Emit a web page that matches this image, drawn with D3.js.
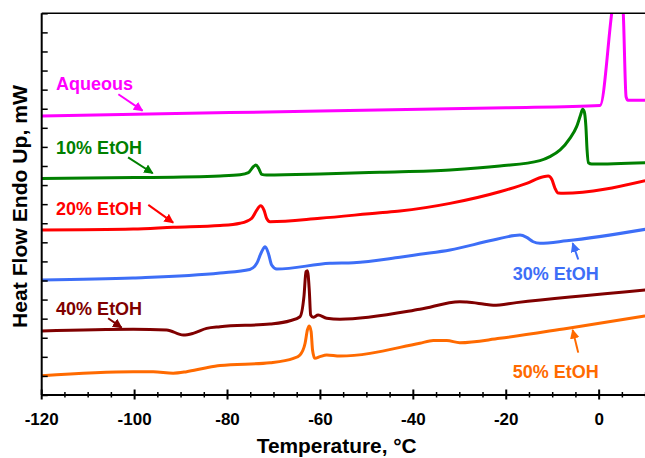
<!DOCTYPE html>
<html>
<head>
<meta charset="utf-8">
<script src="https://cdn.jsdelivr.net/npm/d3@7"></script>
<style>
  html, body { margin: 0; padding: 0; background: #fff; }
  svg { display: block; font-family: "Liberation Sans", Arial, sans-serif; }
</style>
</head>
<body>
<svg id="chart" width="645" height="458"></svg>
<script>
// DSC heating traces: temperature (°C) vs heat flow (mW, endo up, curves offset)
const aqueous = [[-120,14.62],[-60,14.88],[-20,15.05],[0.2,15.17],[2.7,20.0],[4,22.5],[4.8,21.7],[5.2,20.0],[5.8,15.62],[6.2,15.44],[10,15.45]];
const etoh10 = [[-120,11.35],[-100,11.39],[-81.6,11.48],[-77.3,11.54],[-75.5,11.65],[-74.45,11.96],[-73.9,12.05],[-73.3,11.88],[-72.65,11.56],[-71.6,11.53],[-60.1,11.58],[-47.2,11.67],[-32.1,11.79],[-21.4,12.0],[-12.75,12.28],[-10.6,12.49],[-8.4,12.84],[-6.3,13.45],[-4.85,14.06],[-4.0,14.67],[-3.55,14.97],[-3.2,14.84],[-2.85,14.06],[-2.6,12.84],[-2.3,12.17],[-1.6,12.1],[9.9,12.17]];
const etoh20 = [[-120,8.65],[-100.3,8.7],[-91.7,8.79],[-81.6,8.88],[-77.3,9.0],[-74.8,9.26],[-73.7,9.69],[-72.9,9.92],[-72.15,9.69],[-71.6,9.26],[-70.85,9.08],[-60.1,9.26],[-47.2,9.55],[-42.9,9.64],[-32.1,10.04],[-21.4,10.65],[-15.6,11.09],[-12.0,11.44],[-10.96,11.47],[-10.2,11.3],[-9.5,10.83],[-8.8,10.58],[-7.7,10.57],[9.9,11.23]];
const etoh30 = [[-120,6.03],[-100.35,6.13],[-81.6,6.39],[-75.2,6.58],[-73.7,6.9],[-72.65,7.51],[-71.9,7.77],[-71.2,7.42],[-70.5,6.81],[-69.4,6.6],[-57.95,6.9],[-52.9,6.93],[-42.9,7.22],[-38.6,7.37],[-32.1,7.6],[-22.8,8.12],[-17.05,8.38],[-15.6,8.26],[-14.2,8.03],[-12.75,7.95],[-7.0,8.08],[9.9,8.68]];
const etoh40 = [[-120,3.35],[-100.3,3.44],[-93.1,3.41],[-89.5,3.14],[-87.4,3.23],[-84.5,3.49],[-81.6,3.58],[-70.85,3.72],[-66.55,3.89],[-64.4,4.1],[-63.55,5.15],[-63.1,6.46],[-62.8,6.51],[-62.4,5.5],[-62.1,4.19],[-61.55,4.07],[-60.5,4.19],[-58.65,4.02],[-55.8,3.97],[-38.6,4.49],[-30.0,4.89],[-28.5,4.87],[-25.0,4.77],[-22.8,4.7],[-17.8,4.84],[9.9,5.5]];
const etoh50 = [[-120,1.01],[-100.3,1.22],[-96,1.22],[-91.7,1.14],[-88.8,1.22],[-84.5,1.43],[-81.6,1.54],[-70.85,1.69],[-65.8,1.92],[-64.4,2.1],[-63.3,2.71],[-62.8,3.41],[-62.4,3.62],[-62.0,3.32],[-61.7,2.36],[-61.2,1.92],[-60.1,2.01],[-58.65,2.1],[-55.8,2.04],[-38.6,2.71],[-35.7,2.85],[-32.8,2.85],[-30.0,2.74],[-21.4,2.97],[-7.0,3.49],[9.9,4.14]];

const seriesNames = ["Aqueous", "10% EtOH", "20% EtOH", "30% EtOH", "40% EtOH", "50% EtOH"];
const seriesData = [aqueous, etoh10, etoh20, etoh30, etoh40, etoh50];
const seriesColors = ["#ff00ff", "#008000", "#ff0000", "#3d6ef7", "#800000", "#ff6a00"];

// label anchor (T, y) and arrow from/to, in data units
const labelAt = [[-116.9,15.98],[-116.9,12.63],[-116.9,9.43],[-18.6,6.03],[-116.9,4.19],[-18.6,0.89]];
const arrowFrom = [[-103.5,15.76],[-101.4,12.45],[-97.05,9.96],[-4.5,7.1],[-105.7,4.02],[-4.5,2.22]];
const arrowTo = [[-98.3,14.9],[-96.1,11.62],[-91.7,9.03],[-5.7,7.95],[-102.8,3.53],[-5.7,3.41]];

const xMajorTicks = [-120, -100, -80, -60, -40, -20, 0];
const xMinorTicks = d3.range(-120, 11, 5);
const yTicks = d3.range(0, 21, 1);

const svg = d3.select("#chart");
const plotLeft = 41.7, plotRight = 645.6, plotTop = 13.3, plotBottom = 395;

const x = d3.scaleLinear().domain([-120, 10]).range([plotLeft, plotRight]);
const y = d3.scaleLinear().domain([0, 20]).range([plotBottom, plotTop]);

const defs = svg.append("defs");
defs.append("clipPath").attr("id", "plotClip")
  .append("rect").attr("x", plotLeft).attr("y", plotTop)
  .attr("width", plotRight - plotLeft).attr("height", plotBottom - plotTop);

seriesColors.forEach((c, i) => {
  defs.append("marker")
    .attr("id", "arrow" + i)
    .attr("viewBox", "0 0 10 10")
    .attr("refX", 9).attr("refY", 5)
    .attr("markerWidth", 4.8).attr("markerHeight", 4.8)
    .attr("markerUnits", "strokeWidth")
    .attr("orient", "auto")
    .append("path").attr("d", "M0,0 L10,5 L0,10 z").attr("fill", c);
});

// traces
const line = d3.line().x(d => x(d[0])).y(d => y(d[1])).curve(d3.curveMonotoneX);
svg.append("g").attr("clip-path", "url(#plotClip)")
  .selectAll("path").data(seriesData).join("path")
  .attr("d", line)
  .attr("fill", "none")
  .attr("stroke", (d, i) => seriesColors[i])
  .attr("stroke-width", 3)
  .attr("stroke-linejoin", "round");

// top frame
svg.append("line").attr("x1", plotLeft).attr("x2", 645).attr("y1", plotTop).attr("y2", plotTop)
  .attr("stroke", "#000").attr("stroke-width", 1.5);

// y axis: inward ticks, no labels
const yAxis = svg.append("g").attr("transform", `translate(${plotLeft},0)`)
  .call(d3.axisRight(y).tickValues(yTicks).tickSize(6).tickFormat(""));
yAxis.select(".domain").attr("d", `M0,${plotTop}V${plotBottom}`).attr("stroke-width", 2);
yAxis.selectAll(".tick line").attr("stroke-width", 1.5);

// x axis: ticks crossing the axis line
const xAxis = svg.append("g");
xAxis.append("line").attr("x1", plotLeft).attr("x2", 645).attr("y1", plotBottom).attr("y2", plotBottom)
  .attr("stroke", "#000").attr("stroke-width", 2);
xAxis.selectAll("line.minor").data(xMinorTicks.filter(t => !xMajorTicks.includes(t))).join("line")
  .attr("class", "minor")
  .attr("x1", d => x(d)).attr("x2", d => x(d))
  .attr("y1", plotBottom - 3).attr("y2", plotBottom + 2.5)
  .attr("stroke", "#000").attr("stroke-width", 1.5);
xAxis.selectAll("line.major").data(xMajorTicks).join("line")
  .attr("class", "major")
  .attr("x1", d => x(d)).attr("x2", d => x(d))
  .attr("y1", plotBottom - 5.5).attr("y2", plotBottom + 4.5)
  .attr("stroke", "#000").attr("stroke-width", 2);
xAxis.selectAll("text").data(xMajorTicks).join("text")
  .attr("x", d => x(d)).attr("y", 425)
  .attr("text-anchor", "middle")
  .attr("font-size", 17).attr("font-weight", "bold")
  .text(d => String(d));

// axis titles
svg.append("text")
  .attr("x", 336.7).attr("y", 453)
  .attr("text-anchor", "middle")
  .attr("font-size", 20).attr("font-weight", "bold")
  .attr("textLength", 160).attr("lengthAdjust", "spacingAndGlyphs")
  .text("Temperature, °C");

svg.append("text")
  .attr("transform", "translate(27,206.5) rotate(-90)")
  .attr("text-anchor", "middle")
  .attr("font-size", 19.5).attr("font-weight", "bold")
  .attr("textLength", 243).attr("lengthAdjust", "spacingAndGlyphs")
  .text("Heat Flow Endo Up, mW");

// series labels with arrows
const notes = svg.append("g");
seriesNames.forEach((name, i) => {
  notes.append("text")
    .attr("x", x(labelAt[i][0])).attr("y", y(labelAt[i][1]))
    .attr("font-size", 18).attr("font-weight", "bold")
    .attr("fill", seriesColors[i])
    .text(name);
  notes.append("line")
    .attr("x1", x(arrowFrom[i][0])).attr("y1", y(arrowFrom[i][1]))
    .attr("x2", x(arrowTo[i][0])).attr("y2", y(arrowTo[i][1]))
    .attr("stroke", seriesColors[i]).attr("stroke-width", 2)
    .attr("marker-end", `url(#arrow${i})`);
});
</script>
</body>
</html>
